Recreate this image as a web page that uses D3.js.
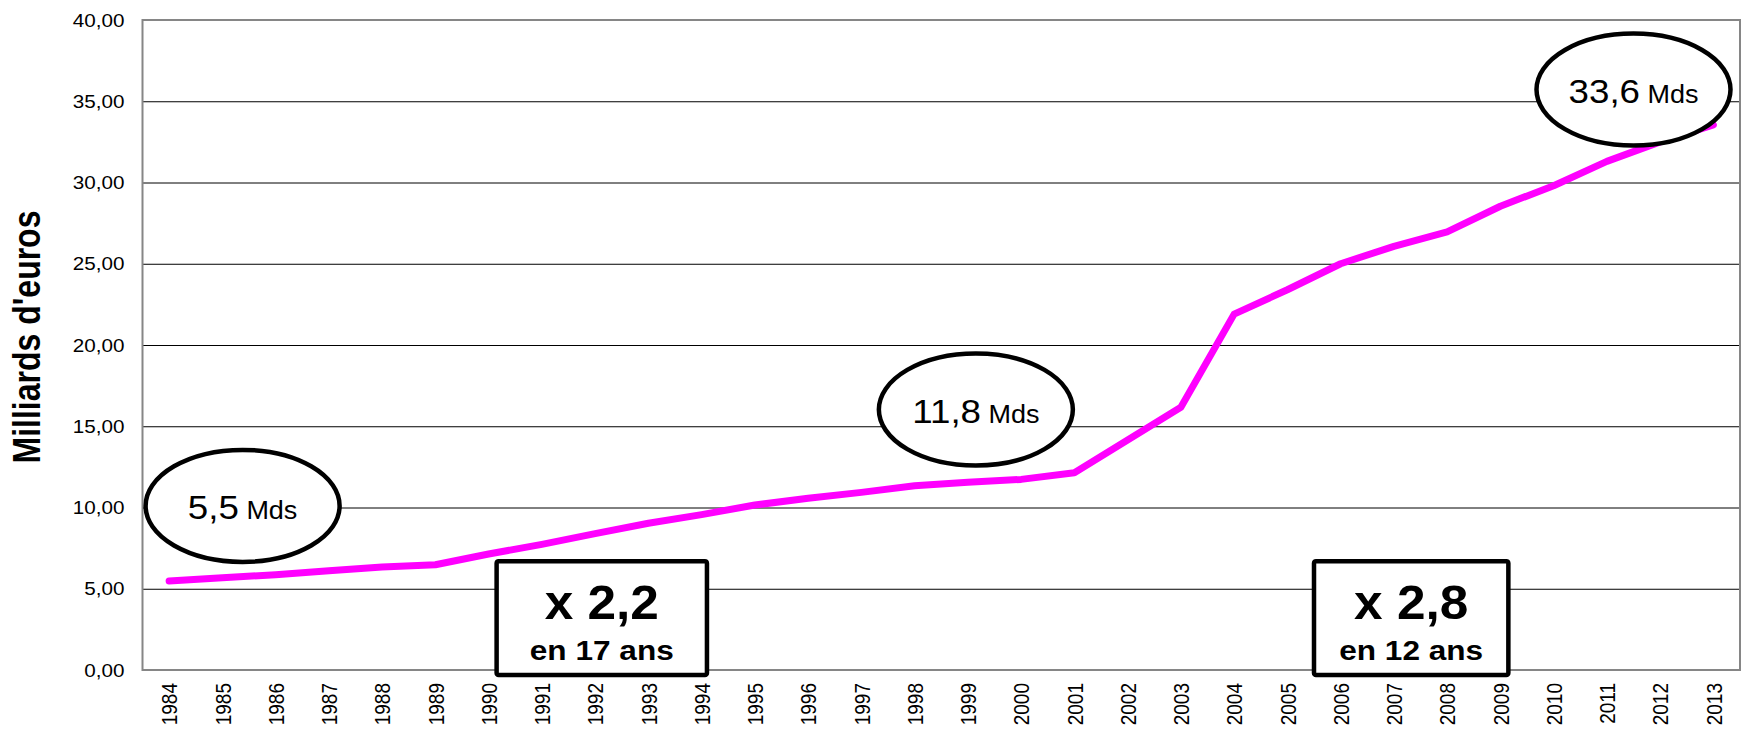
<!DOCTYPE html>
<html>
<head>
<meta charset="utf-8">
<script src="https://cdn.jsdelivr.net/npm/d3@7"></script>
<style>
  body { margin: 0; background: #fff; }
  text { font-family: Arial, "Liberation Sans", sans-serif; }
</style>
</head>
<body>
<div id="chart"></div>
<script>
// data (milliards d'euros)
const years = d3.range(1984, 2014);
const values = [5.48, 5.68, 5.86, 6.11, 6.34, 6.48, 7.14, 7.73, 8.39, 9.03,
                9.56, 10.15, 10.57, 10.93, 11.34, 11.55, 11.73, 12.14, 14.15, 16.17,
                21.9, 23.4, 25.0, 26.07, 26.96, 28.54, 29.8, 31.3, 32.5, 33.55];
const yTicks = [0, 5, 10, 15, 20, 25, 30, 35, 40];

// annotations
const bubbleNums = ['5,5', '11,8', '33,6'];
const bubbleAt = [[1985.38, 10.1], [1999.15, 16.03], [2011.5, 35.72]];
const boxLabels = [['x 2,2', 'en 17 ans'], ['x 2,8', 'en 12 ans']];
const boxYears = [[1990.15, 1994.1], [2005.5, 2009.15]];

const width = 1746, height = 734;
const margin = { top: 20, right: 6, bottom: 64, left: 142.5 };
const innerW = width - margin.left - margin.right;
const innerH = height - margin.top - margin.bottom;

const svg = d3.select('#chart').append('svg')
  .attr('width', width)
  .attr('height', height);

const plot = svg.append('g')
  .attr('transform', `translate(${margin.left}, ${margin.top})`);

const x = d3.scaleLinear()
  .domain([1983.5, 2013.5])
  .range([0, innerW]);

const y = d3.scaleLinear()
  .domain([0, 40])
  .range([innerH, 0]);

const fmt = d => d3.format('.2f')(d).replace('.', ',');

// y axis + gridlines
const yAxis = d3.axisLeft(y)
  .tickValues(yTicks)
  .tickSize(-innerW)
  .tickFormat(fmt);

const gy = plot.append('g').call(yAxis);
gy.select('.domain').remove();
gy.selectAll('.tick line').attr('stroke', '#000').attr('stroke-width', 1);
gy.selectAll('.tick text')
  .attr('x', 0)
  .attr('dy', '0.35em')
  .attr('transform', 'translate(-18,0) scale(1.18,1)')
  .style('font-size', '17.5px')
  .style('fill', '#000');

// x axis
const xAxis = d3.axisBottom(x)
  .tickValues(years)
  .tickSize(0)
  .tickFormat(d3.format('d'));

const gx = plot.append('g')
  .attr('transform', `translate(0, ${innerH})`)
  .call(xAxis);
gx.select('.domain').remove();
gx.selectAll('.tick text')
  .attr('x', 0)
  .attr('y', 0)
  .attr('dy', '0.35em')
  .attr('transform', 'translate(0,13) scale(1.18,1) rotate(-90)')
  .style('text-anchor', 'end')
  .style('font-size', '19px')
  .style('fill', '#000');

// frame
plot.append('rect')
  .attr('x', 0)
  .attr('y', 0)
  .attr('width', innerW)
  .attr('height', innerH)
  .attr('fill', 'none')
  .attr('stroke', '#868686')
  .attr('stroke-width', 2);

// axis title
svg.append('text')
  .attr('transform', 'translate(27,337) scale(1.2,1) rotate(-90)')
  .attr('dy', '0.35em')
  .style('text-anchor', 'middle')
  .style('font-size', '32px')
  .style('font-weight', 'bold')
  .text("Milliards d'euros");

// series line
const line = d3.line()
  .x((d, i) => x(years[i]))
  .y(d => y(d));

plot.append('path')
  .datum(values)
  .attr('d', line)
  .attr('fill', 'none')
  .attr('stroke', '#ff00ff')
  .attr('stroke-width', 7)
  .attr('stroke-linejoin', 'round')
  .attr('stroke-linecap', 'round');

// bubbles
bubbleNums.forEach((num, i) => {
  const cx = x(bubbleAt[i][0]);
  const cy = y(bubbleAt[i][1]);
  plot.append('ellipse')
    .attr('cx', cx)
    .attr('cy', cy)
    .attr('rx', 97)
    .attr('ry', 56)
    .attr('fill', '#fff')
    .attr('stroke', '#000')
    .attr('stroke-width', 4.5);
  const t = plot.append('text')
    .attr('transform', `translate(${cx},${cy + 13.5}) scale(1.08,1)`)
    .style('text-anchor', 'middle');
  t.append('tspan').style('font-size', '34px').text(num);
  t.append('tspan').style('font-size', '25px').text(' Mds');
});

// boxes
boxLabels.forEach((lab, i) => {
  const x0 = x(boxYears[i][0]);
  const x1 = x(boxYears[i][1]);
  const top = y(6.7);
  const bot = y(-0.3);
  const cx = (x0 + x1) / 2;
  plot.append('rect')
    .attr('x', x0)
    .attr('y', top)
    .attr('width', x1 - x0)
    .attr('height', bot - top)
    .attr('rx', 2)
    .attr('fill', '#fff')
    .attr('stroke', '#000')
    .attr('stroke-width', 4.5);
  plot.append('text')
    .attr('transform', `translate(${cx},${top + 58}) scale(1.07,1)`)
    .style('text-anchor', 'middle')
    .style('font-size', '48px')
    .style('font-weight', 'bold')
    .text(lab[0]);
  plot.append('text')
    .attr('transform', `translate(${cx},${top + 99}) scale(1.17,1)`)
    .style('text-anchor', 'middle')
    .style('font-size', '27px')
    .style('font-weight', 'bold')
    .text(lab[1]);
});
</script>
</body>
</html>
